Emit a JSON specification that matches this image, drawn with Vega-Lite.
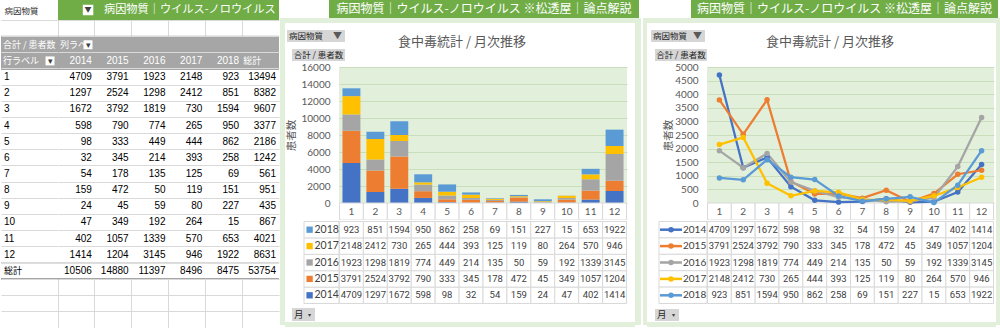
{
"$schema":"https://vega.github.io/schema/vega-lite/v6.json",
"padding":0,
"background":"white",
"spacing":0,
"config":{"view":{"stroke":null},"font":"Noto Sans CJK JP","concat":{"spacing":0},"axis":{"labelFont":"Lato","titleFont":"Noto Sans CJK JP","labelOverlap":false}},
"datasets":{"cases":[
{"month":1,"year":"2014","patients":4709},{"month":2,"year":"2014","patients":1297},{"month":3,"year":"2014","patients":1672},{"month":4,"year":"2014","patients":598},{"month":5,"year":"2014","patients":98},{"month":6,"year":"2014","patients":32},{"month":7,"year":"2014","patients":54},{"month":8,"year":"2014","patients":159},{"month":9,"year":"2014","patients":24},{"month":10,"year":"2014","patients":47},{"month":11,"year":"2014","patients":402},{"month":12,"year":"2014","patients":1414},
{"month":1,"year":"2015","patients":3791},{"month":2,"year":"2015","patients":2524},{"month":3,"year":"2015","patients":3792},{"month":4,"year":"2015","patients":790},{"month":5,"year":"2015","patients":333},{"month":6,"year":"2015","patients":345},{"month":7,"year":"2015","patients":178},{"month":8,"year":"2015","patients":472},{"month":9,"year":"2015","patients":45},{"month":10,"year":"2015","patients":349},{"month":11,"year":"2015","patients":1057},{"month":12,"year":"2015","patients":1204},
{"month":1,"year":"2016","patients":1923},{"month":2,"year":"2016","patients":1298},{"month":3,"year":"2016","patients":1819},{"month":4,"year":"2016","patients":774},{"month":5,"year":"2016","patients":449},{"month":6,"year":"2016","patients":214},{"month":7,"year":"2016","patients":135},{"month":8,"year":"2016","patients":50},{"month":9,"year":"2016","patients":59},{"month":10,"year":"2016","patients":192},{"month":11,"year":"2016","patients":1339},{"month":12,"year":"2016","patients":3145},
{"month":1,"year":"2017","patients":2148},{"month":2,"year":"2017","patients":2412},{"month":3,"year":"2017","patients":730},{"month":4,"year":"2017","patients":265},{"month":5,"year":"2017","patients":444},{"month":6,"year":"2017","patients":393},{"month":7,"year":"2017","patients":125},{"month":8,"year":"2017","patients":119},{"month":9,"year":"2017","patients":80},{"month":10,"year":"2017","patients":264},{"month":11,"year":"2017","patients":570},{"month":12,"year":"2017","patients":946},
{"month":1,"year":"2018","patients":923},{"month":2,"year":"2018","patients":851},{"month":3,"year":"2018","patients":1594},{"month":4,"year":"2018","patients":950},{"month":5,"year":"2018","patients":862},{"month":6,"year":"2018","patients":258},{"month":7,"year":"2018","patients":69},{"month":8,"year":"2018","patients":151},{"month":9,"year":"2018","patients":227},{"month":10,"year":"2018","patients":15},{"month":11,"year":"2018","patients":653},{"month":12,"year":"2018","patients":1922}
]},
"data":{"name":"cases"},
"hconcat":[
{"spacing":0,"vconcat":[
 {"spacing":0,"bounds":"flush","hconcat":[
  {"width":57,"height":20,"data":{"values":[{}]},"mark":{"type":"text","text":"病因物質","align":"left","dx":-25,"dy":1,"fontSize":8.5,"color":"#333333"}},
  {"width":221,"height":20,"view":{"fill":"#70ad47"},"data":{"values":[{}]},"layer":[
   {"mark":{"type":"square","filled":true,"color":"#ffffff","size":110,"opacity":1},"encoding":{"x":{"datum":"g","type":"nominal","scale":{"type":"band","paddingInner":0,"paddingOuter":0},"bandPosition":0.136,"axis":null}}},
   {"mark":{"type":"text","text":"▼","fontSize":7,"color":"#404040"},"encoding":{"x":{"datum":"g","type":"nominal","bandPosition":0.136}}},
   {"mark":{"type":"text","text":"病因物質｜ウイルス-ノロウイルス","align":"left","fontSize":11.2,"color":"#ffffff","clip":true},"encoding":{"x":{"datum":"g","type":"nominal","bandPosition":0.208}}}
  ]}
 ]},
 {"spacing":0,"bounds":"flush","hconcat":[
  {"width":57,"height":308,"layer":[
   {"transform":[{"aggregate":[{"op":"sum","field":"patients","as":"total"}],"groupby":["month"]}],"mark":{"type":"rect","color":"#ffffff","height":{"band":1.12}},
    "encoding":{"y":{"field":"month","type":"ordinal","scale":{"type":"band","domain":["e0","h1","h2",1,2,3,4,5,6,7,8,9,10,11,12,"総計","e1","e2","e3"],"paddingInner":0,"paddingOuter":0.031},"axis":{"grid":true,"bandPosition":0,"labels":false,"ticks":false,"domain":false,"title":null,"gridColor":"#d9d9d9"}}}},
   {"data":{"values":[{}]},"mark":{"type":"rect","color":"#ffffff","height":{"band":1.12}},"encoding":{"y":{"datum":"総計","type":"ordinal"}}},
   {"data":{"values":[{}]},"mark":{"type":"rect","color":"#a6a6a6","height":{"band":1.12}},"encoding":{"y":{"datum":"h1","type":"ordinal"}}},
   {"data":{"values":[{}]},"mark":{"type":"rect","color":"#a6a6a6","height":{"band":1.12}},"encoding":{"y":{"datum":"h2","type":"ordinal"}}},
   {"data":{"values":[{}]},"mark":{"type":"rule","color":"#a6a6a6","strokeWidth":1},"encoding":{"y":{"datum":"総計","type":"ordinal","bandPosition":0}}},
   {"data":{"values":[{}]},"mark":{"type":"rule","color":"#a6a6a6","strokeWidth":2},"encoding":{"y":{"datum":"e1","type":"ordinal","bandPosition":0}}},
   {"transform":[{"aggregate":[{"op":"sum","field":"patients","as":"total"}],"groupby":["month"]}],"mark":{"type":"text","align":"left","dx":-25.5,"font":"Liberation Sans","fontSize":10,"color":"#000000"},
    "encoding":{"y":{"field":"month","type":"ordinal","bandPosition":0.5},"text":{"field":"month","type":"ordinal"}}},
   {"data":{"values":[{}]},"mark":{"type":"text","text":"総計","align":"left","dx":-25.5,"fontSize":9,"color":"#000000"},"encoding":{"y":{"datum":"総計","type":"ordinal","bandPosition":0.5}}},
   {"data":{"values":[{}]},"mark":{"type":"text","text":"合計 / 患者数","align":"left","dx":-26.5,"fontSize":9,"color":"#ffffff"},"encoding":{"y":{"datum":"h1","type":"ordinal","bandPosition":0.5}}},
   {"data":{"values":[{}]},"mark":{"type":"text","text":"行ラベル","align":"left","dx":-26.5,"fontSize":9,"color":"#ffffff"},"encoding":{"y":{"datum":"h2","type":"ordinal","bandPosition":0.5}}},
   {"data":{"values":[{}]},"mark":{"type":"square","filled":true,"color":"#ffffff","size":80,"opacity":1},"encoding":{"x":{"datum":"A","type":"nominal","scale":{"type":"band","paddingInner":0,"paddingOuter":0},"bandPosition":0.86,"axis":null},"y":{"datum":"h2","type":"ordinal","bandPosition":0.5}}},
   {"data":{"values":[{}]},"mark":{"type":"text","text":"▾","fontSize":9,"color":"#404040"},"encoding":{"x":{"datum":"A","type":"nominal","bandPosition":0.86},"y":{"datum":"h2","type":"ordinal","bandPosition":0.5}}}
  ]},
  {"width":221,"height":308,"layer":[
   {"transform":[{"aggregate":[{"op":"sum","field":"patients","as":"total"}],"groupby":["month"]}],"mark":{"type":"rect","color":"#ffffff","height":{"band":1.12}},
    "encoding":{"y":{"field":"month","type":"ordinal","scale":{"type":"band","domain":["e0","h1","h2",1,2,3,4,5,6,7,8,9,10,11,12,"総計","e1","e2","e3"],"paddingInner":0,"paddingOuter":0.031},"axis":{"grid":true,"bandPosition":0,"labels":false,"ticks":false,"domain":false,"title":null,"gridColor":"#d9d9d9"}}}},
   {"data":{"values":[{}]},"mark":{"type":"rect","color":"#ffffff","height":{"band":1.12}},"encoding":{"y":{"datum":"総計","type":"ordinal"}}},
   {"data":{"values":[{}]},"mark":{"type":"rect","color":"#a6a6a6","height":{"band":1.12}},"encoding":{"y":{"datum":"h1","type":"ordinal"}}},
   {"data":{"values":[{}]},"mark":{"type":"rect","color":"#a6a6a6","height":{"band":1.12}},"encoding":{"y":{"datum":"h2","type":"ordinal"}}},
   {"data":{"values":[{}]},"mark":{"type":"rule","color":"#a6a6a6","strokeWidth":1},"encoding":{"y":{"datum":"総計","type":"ordinal","bandPosition":0}}},
   {"data":{"values":[{}]},"mark":{"type":"rule","color":"#a6a6a6","strokeWidth":2},"encoding":{"y":{"datum":"e1","type":"ordinal","bandPosition":0}}},
   {"mark":{"type":"text","align":"right","dx":-3,"font":"Liberation Sans","fontSize":10,"color":"#000000"},
    "encoding":{"x":{"field":"year","type":"nominal","scale":{"type":"band","domain":["2014","2015","2016","2017","2018","総計"],"paddingInner":0,"paddingOuter":0},"bandPosition":1,"axis":{"grid":true,"bandPosition":0,"labels":false,"ticks":false,"domain":false,"title":null,"gridColor":"#d9d9d9"}},"y":{"field":"month","type":"ordinal","bandPosition":0.5},"text":{"field":"patients","type":"quantitative","format":"d"}}},
   {"transform":[{"aggregate":[{"op":"sum","field":"patients","as":"total"}],"groupby":["month"]}],"mark":{"type":"text","align":"right","dx":-3,"font":"Liberation Sans","fontSize":10,"color":"#000000"},
    "encoding":{"x":{"datum":"総計","type":"nominal","bandPosition":1},"y":{"field":"month","type":"ordinal","bandPosition":0.5},"text":{"field":"total","type":"quantitative","format":"d"}}},
   {"transform":[{"aggregate":[{"op":"sum","field":"patients","as":"total"}],"groupby":["year"]}],"mark":{"type":"text","align":"right","dx":-3,"font":"Liberation Sans","fontSize":10,"color":"#000000"},
    "encoding":{"x":{"field":"year","type":"nominal","bandPosition":1},"y":{"datum":"総計","type":"ordinal","bandPosition":0.5},"text":{"field":"total","type":"quantitative","format":"d"}}},
   {"transform":[{"aggregate":[{"op":"sum","field":"patients","as":"total"}]}],"mark":{"type":"text","align":"right","dx":-3,"font":"Liberation Sans","fontSize":10,"color":"#000000"},
    "encoding":{"x":{"datum":"総計","type":"nominal","bandPosition":1},"y":{"datum":"総計","type":"ordinal","bandPosition":0.5},"text":{"field":"total","type":"quantitative","format":"d"}}},
   {"transform":[{"aggregate":[{"op":"sum","field":"patients","as":"total"}],"groupby":["year"]}],"mark":{"type":"text","align":"right","dx":-3,"font":"Liberation Sans","fontSize":10,"color":"#ffffff"},
    "encoding":{"x":{"field":"year","type":"nominal","bandPosition":1},"y":{"datum":"h2","type":"ordinal","bandPosition":0.5},"text":{"field":"year","type":"nominal"}}},
   {"data":{"values":[{}]},"mark":{"type":"text","text":"総計","align":"left","dx":1,"fontSize":9,"color":"#ffffff"},"encoding":{"x":{"datum":"総計","type":"nominal","bandPosition":0},"y":{"datum":"h2","type":"ordinal","bandPosition":0.5}}},
   {"data":{"values":[{}]},"mark":{"type":"text","text":"列ラベ","align":"left","dx":2,"fontSize":9,"color":"#ffffff"},"encoding":{"x":{"datum":"2014","type":"nominal","bandPosition":0},"y":{"datum":"h1","type":"ordinal","bandPosition":0.5}}},
   {"data":{"values":[{}]},"mark":{"type":"square","filled":true,"color":"#ffffff","size":80,"opacity":1},"encoding":{"x":{"datum":"2014","type":"nominal","bandPosition":0.815},"y":{"datum":"h1","type":"ordinal","bandPosition":0.5}}},
   {"data":{"values":[{}]},"mark":{"type":"text","text":"▾","fontSize":9,"color":"#404040"},"encoding":{"x":{"datum":"2014","type":"nominal","bandPosition":0.815},"y":{"datum":"h1","type":"ordinal","bandPosition":0.5}}}
  ]}
 ]}
]},
{"spacing":0,"vconcat":[
 {"spacing":0,"bounds":"flush","hconcat":[
  {"width":49,"height":18,"data":{"values":[]},"mark":{"type":"text","text":""}},
  {"width":310,"height":18,"view":{"fill":"#70ad47"},"data":{"values":[{}]},"mark":{"type":"text","text":"病因物質｜ウイルス-ノロウイルス ※松透屋｜論点解説","fontSize":12,"color":"#ffffff"}},
  {"width":3,"height":18,"data":{"values":[]},"mark":{"type":"text","text":""}}
 ]},
 {"spacing":0,"hconcat":[
  {"width":5,"height":307,"view":{"fill":"#e2efda"},"data":{"values":[]},"mark":{"type":"text","text":""}},
  {"spacing":0,"vconcat":[
   {"width":350,"height":5,"view":{"fill":"#e2efda"},"data":{"values":[]},"mark":{"type":"text","text":""}},
   {"spacing":0,"vconcat":[
    {"spacing":0,"hconcat":[
     {"spacing":0,"vconcat":[
      {"width":60,"height":7,"data":{"values":[]},"mark":{"type":"text","text":""}},
      {"spacing":0,"bounds":"flush","hconcat":[
       {"width":2,"height":12,"data":{"values":[]},"mark":{"type":"text","text":""}},
       {"width":58,"height":12,"view":{"fill":"#d6d6d6"},"data":{"values":[{}]},"layer":[
        {"mark":{"type":"text","text":"病因物質","align":"left","dx":-27,"fontSize":8.5,"color":"#262626"}},
        {"mark":{"type":"text","text":"▼","align":"right","dx":26,"fontSize":9,"color":"#595959"}}
       ]}
      ]},
      {"width":60,"height":7,"data":{"values":[]},"mark":{"type":"text","text":""}},
      {"spacing":0,"bounds":"flush","hconcat":[
       {"width":7,"height":12,"data":{"values":[]},"mark":{"type":"text","text":""}},
       {"width":53,"height":12,"view":{"fill":"#d6d6d6"},"data":{"values":[{}]},"mark":{"type":"text","text":"合計 / 患者数","fontSize":8.5,"color":"#262626"}}
      ]}
     ]},
     {"width":290,"height":38,"data":{"values":[{}]},"mark":{"type":"text","text":"食中毒統計 / 月次推移","fontSize":13,"color":"#595959","dx":-28}}
    ]},
    {"spacing":0,"bounds":"flush","hconcat":[
     {"width":54,"height":159,"data":{"values":[]},"mark":{"type":"text","text":""}},
     {"width":288,"height":159,"view":{"fill":"#e2efda"},"layer":[
      {"data":{"values":[{}]},"mark":{"type":"rect","color":"#ffffff"},
       "encoding":{"y":{"datum":16000,"type":"quantitative","scale":{"domain":[-2000,16705.9],"nice":false,"zero":false},
         "axis":{"values":[0,2000,4000,6000,8000,10000,12000,14000,16000],"tickCount":30,"format":"d","labelOverlap":false,"grid":true,"gridColor":"#c9dfbc","domain":false,"ticks":false,"labelPadding":9,"labelFontSize":10,"labelColor":"#595959","title":"患者数","titleFontSize":10.5,"titleColor":"#595959","titleFontWeight":"normal","titlePadding":4,"titleY":74}},
        "y2":{"datum":16705.9}}},
      {"mark":{"type":"bar","width":{"band":0.75}},
       "encoding":{"x":{"field":"month","type":"ordinal","scale":{"type":"band","domain":[1,2,3,4,5,6,7,8,9,10,11,12],"paddingInner":0,"paddingOuter":0.02},"axis":null},
        "y":{"field":"patients","type":"quantitative","stack":"zero"},
        "order":{"field":"year","type":"ordinal","sort":"ascending"},
        "color":{"field":"year","type":"nominal","scale":{"domain":["2014","2015","2016","2017","2018"],"range":["#4472c4","#ed7d31","#a5a5a5","#ffc000","#5b9bd5"]},"legend":null}}},
      {"transform":[{"aggregate":[{"op":"sum","field":"patients","as":"total"}],"groupby":["month"]}],"mark":{"type":"rect","fill":"#ffffff","stroke":"#d9d9d9","strokeWidth":1,"clip":true},
       "encoding":{"x":{"field":"month","type":"ordinal"},"y":{"datum":0,"type":"quantitative"},"y2":{"datum":-2000}}},
      {"transform":[{"aggregate":[{"op":"sum","field":"patients","as":"total"}],"groupby":["month"]}],"mark":{"type":"text","font":"Lato","fontSize":10,"color":"#595959"},
       "encoding":{"x":{"field":"month","type":"ordinal","bandPosition":0.5},"y":{"datum":-1000,"type":"quantitative"},"text":{"field":"month","type":"ordinal"}}}
     ]},
     {"width":8,"height":159,"data":{"values":[]},"mark":{"type":"text","text":""}}
    ]},
    {"spacing":0,"bounds":"flush","hconcat":[
     {"width":19,"height":83,"data":{"values":[]},"mark":{"type":"text","text":""}},
     {"width":35,"height":83,"transform":[{"aggregate":[{"op":"sum","field":"patients","as":"total"}],"groupby":["year"]}],"layer":[
      {"mark":{"type":"rect","fill":"#ffffff","stroke":"#d9d9d9","strokeWidth":1},"encoding":{"y":{"field":"year","type":"nominal","scale":{"type":"band","domain":["2018","2017","2016","2015","2014"],"paddingInner":0,"paddingOuter":0.03},"axis":null}}},
      {"mark":{"type":"square","filled":true,"size":40,"opacity":1},"encoding":{"x":{"datum":"L","type":"nominal","scale":{"type":"band","paddingInner":0,"paddingOuter":0},"bandPosition":0.16,"axis":null},"y":{"field":"year","type":"nominal","bandPosition":0.5},"color":{"field":"year","type":"nominal","legend":null}}},
      {"mark":{"type":"text","align":"left","font":"Lato","fontSize":10.5,"color":"#404040"},"encoding":{"x":{"datum":"L","type":"nominal","bandPosition":0.3},"y":{"field":"year","type":"nominal","bandPosition":0.5},"text":{"field":"year","type":"nominal"}}}
     ]},
     {"width":288,"height":83,"layer":[
      {"mark":{"type":"rect","fill":"#ffffff","stroke":"#d9d9d9","strokeWidth":1},"encoding":{"x":{"field":"month","type":"ordinal","scale":{"type":"band","domain":[1,2,3,4,5,6,7,8,9,10,11,12],"paddingInner":0,"paddingOuter":0.02},"axis":null},"y":{"field":"year","type":"nominal","scale":{"type":"band","domain":["2018","2017","2016","2015","2014"],"paddingInner":0,"paddingOuter":0.03},"axis":null}}},
      {"mark":{"type":"text","font":"Roboto","fontSize":9.5,"color":"#404040"},"encoding":{"x":{"field":"month","type":"ordinal","bandPosition":0.5},"y":{"field":"year","type":"nominal","bandPosition":0.5},"text":{"field":"patients","type":"quantitative","format":"d"}}}
     ]},
     {"width":8,"height":83,"data":{"values":[]},"mark":{"type":"text","text":""}}
    ]},
    {"spacing":0,"hconcat":[
     {"width":7,"height":17,"data":{"values":[]},"mark":{"type":"text","text":""}},
     {"spacing":0,"vconcat":[
      {"width":23,"height":3,"data":{"values":[]},"mark":{"type":"text","text":""}},
      {"width":23,"height":13,"view":{"fill":"#d6d6d6"},"data":{"values":[{}]},"layer":[
       {"mark":{"type":"text","text":"月","align":"left","dx":-9.5,"fontSize":9.5,"color":"#262626"}},
       {"mark":{"type":"text","text":"▾","dx":6,"fontSize":6,"color":"#404040"}}
      ]},
      {"width":23,"height":1,"data":{"values":[]},"mark":{"type":"text","text":""}}
     ]},
     {"width":320,"height":17,"data":{"values":[]},"mark":{"type":"text","text":""}}
    ]}
   ]},
   {"width":350,"height":5,"view":{"fill":"#e2efda"},"data":{"values":[]},"mark":{"type":"text","text":""}}
  ]},
  {"width":6,"height":307,"view":{"fill":"#e2efda"},"data":{"values":[]},"mark":{"type":"text","text":""}},
  {"width":1,"height":307,"data":{"values":[]},"mark":{"type":"text","text":""}}
 ]},
 {"width":362,"height":3,"data":{"values":[]},"mark":{"type":"text","text":""}}
]},
{"spacing":0,"vconcat":[
 {"spacing":0,"bounds":"flush","hconcat":[
  {"width":49,"height":18,"data":{"values":[]},"mark":{"type":"text","text":""}},
  {"width":307,"height":18,"view":{"fill":"#70ad47"},"data":{"values":[{}]},"mark":{"type":"text","text":"病因物質｜ウイルス-ノロウイルス ※松透屋｜論点解説","fontSize":12,"color":"#ffffff"}},
  {"width":4,"height":18,"data":{"values":[]},"mark":{"type":"text","text":""}}
 ]},
 {"spacing":0,"hconcat":[
  {"width":1,"height":307,"data":{"values":[]},"mark":{"type":"text","text":""}},
  {"width":4,"height":307,"view":{"fill":"#e2efda"},"data":{"values":[]},"mark":{"type":"text","text":""}},
  {"spacing":0,"vconcat":[
   {"width":349,"height":5,"view":{"fill":"#e2efda"},"data":{"values":[]},"mark":{"type":"text","text":""}},
   {"spacing":0,"vconcat":[
    {"spacing":0,"hconcat":[
     {"spacing":0,"vconcat":[
      {"width":60,"height":7,"data":{"values":[]},"mark":{"type":"text","text":""}},
      {"spacing":0,"bounds":"flush","hconcat":[
       {"width":4,"height":12,"data":{"values":[]},"mark":{"type":"text","text":""}},
       {"width":54,"height":12,"view":{"fill":"#d6d6d6"},"data":{"values":[{}]},"layer":[
        {"mark":{"type":"text","text":"病因物質","align":"left","dx":-25,"fontSize":8.5,"color":"#262626"}},
        {"mark":{"type":"text","text":"▼","align":"right","dx":24,"fontSize":9,"color":"#595959"}}
       ]},
       {"width":2,"height":12,"data":{"values":[]},"mark":{"type":"text","text":""}}
      ]},
      {"width":60,"height":7,"data":{"values":[]},"mark":{"type":"text","text":""}},
      {"spacing":0,"bounds":"flush","hconcat":[
       {"width":8,"height":12,"data":{"values":[]},"mark":{"type":"text","text":""}},
       {"width":52,"height":12,"view":{"fill":"#d6d6d6"},"data":{"values":[{}]},"mark":{"type":"text","text":"合計 / 患者数","fontSize":8.5,"color":"#262626"}}
      ]}
     ]},
     {"width":289,"height":38,"data":{"values":[{}]},"mark":{"type":"text","text":"食中毒統計 / 月次推移","fontSize":13,"color":"#595959","dx":-21.5}}
    ]},
    {"spacing":0,"bounds":"flush","hconcat":[
     {"width":60,"height":159,"data":{"values":[]},"mark":{"type":"text","text":""}},
     {"width":287,"height":159,"view":{"fill":"#e2efda"},"layer":[
      {"data":{"values":[{}]},"mark":{"type":"rect","color":"#ffffff"},
       "encoding":{"y":{"datum":5000,"type":"quantitative","scale":{"domain":[-625,5220.6],"nice":false,"zero":false},
         "axis":{"values":[0,500,1000,1500,2000,2500,3000,3500,4000,4500,5000],"tickCount":30,"format":"d","labelOverlap":false,"grid":true,"gridColor":"#c9dfbc","domain":false,"ticks":false,"labelPadding":9,"labelFontSize":10,"labelColor":"#595959","title":"患者数","titleFontSize":10.5,"titleColor":"#595959","titleFontWeight":"normal","titlePadding":1.5,"titleY":74}},
        "y2":{"datum":5220.6}}},
      {"transform":[{"aggregate":[{"op":"sum","field":"patients","as":"total"}],"groupby":["month"]}],"mark":{"type":"rect","fill":"#ffffff","stroke":"#d9d9d9","strokeWidth":1,"clip":true},
       "encoding":{"x":{"field":"month","type":"ordinal","scale":{"type":"band","domain":[1,2,3,4,5,6,7,8,9,10,11,12],"paddingInner":0,"paddingOuter":0.02},"axis":null},"y":{"datum":0,"type":"quantitative"},"y2":{"datum":-625}}},
      {"transform":[{"aggregate":[{"op":"sum","field":"patients","as":"total"}],"groupby":["month"]}],"mark":{"type":"text","font":"Lato","fontSize":10,"color":"#595959"},
       "encoding":{"x":{"field":"month","type":"ordinal","bandPosition":0.5},"y":{"datum":-312.5,"type":"quantitative"},"text":{"field":"month","type":"ordinal"}}},
      {"mark":{"type":"line","strokeWidth":2.25},
       "encoding":{"x":{"field":"month","type":"ordinal","bandPosition":0.5},"y":{"field":"patients","type":"quantitative"},"color":{"field":"year","type":"nominal","legend":null}}},
      {"mark":{"type":"circle","size":30,"opacity":1},
       "encoding":{"x":{"field":"month","type":"ordinal","bandPosition":0.5},"y":{"field":"patients","type":"quantitative"},"color":{"field":"year","type":"nominal","legend":null}}}
     ]},
     {"width":2,"height":159,"data":{"values":[]},"mark":{"type":"text","text":""}}
    ]},
    {"spacing":0,"bounds":"flush","hconcat":[
     {"width":12,"height":83,"data":{"values":[]},"mark":{"type":"text","text":""}},
     {"width":48,"height":83,"transform":[{"aggregate":[{"op":"sum","field":"patients","as":"total"}],"groupby":["year"]}],"layer":[
      {"mark":{"type":"rect","fill":"#ffffff","stroke":"#d9d9d9","strokeWidth":1},"encoding":{"y":{"field":"year","type":"nominal","scale":{"type":"band","domain":["2014","2015","2016","2017","2018"],"paddingInner":0,"paddingOuter":0.03},"axis":null}}},
      {"mark":{"type":"point","shape":"M-1,0L1,0","size":484,"strokeWidth":2.5,"filled":false,"opacity":1},"encoding":{"x":{"datum":"L","type":"nominal","scale":{"type":"band","paddingInner":0,"paddingOuter":0},"bandPosition":0.25,"axis":null},"y":{"field":"year","type":"nominal","bandPosition":0.5},"color":{"field":"year","type":"nominal","legend":null}}},
      {"mark":{"type":"circle","size":30,"opacity":1},"encoding":{"x":{"datum":"L","type":"nominal","bandPosition":0.25},"y":{"field":"year","type":"nominal","bandPosition":0.5},"color":{"field":"year","type":"nominal","legend":null}}},
      {"mark":{"type":"text","align":"left","font":"Lato","fontSize":10,"color":"#404040"},"encoding":{"x":{"datum":"L","type":"nominal","bandPosition":0.5},"y":{"field":"year","type":"nominal","bandPosition":0.5},"text":{"field":"year","type":"nominal"}}}
     ]},
     {"width":287,"height":83,"layer":[
      {"mark":{"type":"rect","fill":"#ffffff","stroke":"#d9d9d9","strokeWidth":1},"encoding":{"x":{"field":"month","type":"ordinal","scale":{"type":"band","domain":[1,2,3,4,5,6,7,8,9,10,11,12],"paddingInner":0,"paddingOuter":0.02},"axis":null},"y":{"field":"year","type":"nominal","scale":{"type":"band","domain":["2014","2015","2016","2017","2018"],"paddingInner":0,"paddingOuter":0.03},"axis":null}}},
      {"mark":{"type":"text","font":"Roboto","fontSize":9.5,"color":"#404040"},"encoding":{"x":{"field":"month","type":"ordinal","bandPosition":0.5},"y":{"field":"year","type":"nominal","bandPosition":0.5},"text":{"field":"patients","type":"quantitative","format":"d"}}}
     ]},
     {"width":2,"height":83,"data":{"values":[]},"mark":{"type":"text","text":""}}
    ]},
    {"spacing":0,"hconcat":[
     {"width":8,"height":17,"data":{"values":[]},"mark":{"type":"text","text":""}},
     {"spacing":0,"vconcat":[
      {"width":24,"height":4,"data":{"values":[]},"mark":{"type":"text","text":""}},
      {"width":24,"height":12,"view":{"fill":"#d6d6d6"},"data":{"values":[{}]},"layer":[
       {"mark":{"type":"text","text":"月","align":"left","dx":-10,"fontSize":9.5,"color":"#262626"}},
       {"mark":{"type":"text","text":"▾","dx":6,"fontSize":6,"color":"#404040"}}
      ]},
      {"width":24,"height":1,"data":{"values":[]},"mark":{"type":"text","text":""}}
     ]},
     {"width":317,"height":17,"data":{"values":[]},"mark":{"type":"text","text":""}}
    ]}
   ]},
   {"width":349,"height":5,"view":{"fill":"#e2efda"},"data":{"values":[]},"mark":{"type":"text","text":""}}
  ]},
  {"width":5,"height":307,"view":{"fill":"#e2efda"},"data":{"values":[]},"mark":{"type":"text","text":""}},
  {"width":1,"height":307,"data":{"values":[]},"mark":{"type":"text","text":""}}
 ]},
 {"width":360,"height":3,"data":{"values":[]},"mark":{"type":"text","text":""}}
]}
]
}
